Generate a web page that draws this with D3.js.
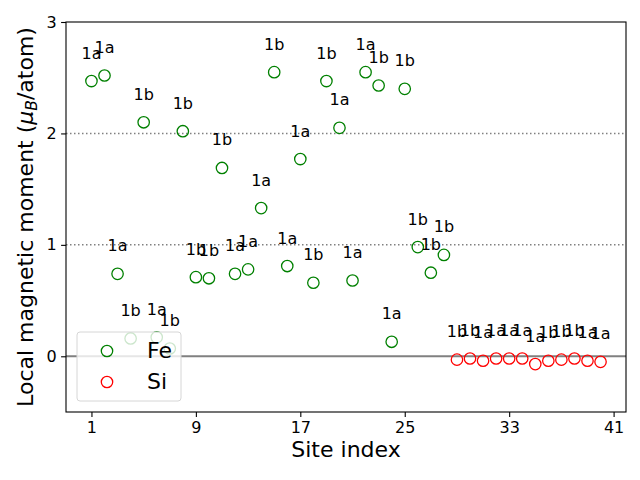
<!DOCTYPE html>
<html>
<head>
<meta charset="utf-8">
<script src="https://cdn.jsdelivr.net/npm/d3@7"></script>
<style>
  html, body { margin: 0; padding: 0; background: #fff; }
  svg { display: block; font-family: "DejaVu Sans", sans-serif; }
</style>
</head>
<body>
<svg id="chart" width="640" height="480"></svg>
<script>
// ---- Data ----
const feSites = [1,2,3,4,5,6,7,8,9,10,11,12,13,14,15,16,17,18,19,20,21,22,23,24,25,26,27,28];
const feValues = [2.47,2.52,0.74,0.16,2.10,0.17,0.07,2.02,0.71,0.70,1.69,0.74,0.78,1.33,2.55,0.81,1.77,0.66,2.47,2.05,0.68,2.55,2.43,0.13,2.40,0.98,0.75,0.91];
const feLabels = ["1a","1a","1a","1b","1b","1a","1b","1b","1b","1b","1b","1a","1a","1a","1b","1a","1a","1b","1b","1a","1a","1a","1b","1a","1b","1b","1b","1b"];
const siSites = [29,30,31,32,33,34,35,36,37,38,39,40];
const siValues = [-0.03,-0.02,-0.04,-0.02,-0.02,-0.02,-0.07,-0.04,-0.03,-0.02,-0.04,-0.05];
const siLabels = ["1b","1b","1a","1a","1a","1a","1a","1b","1b","1b","1a","1a"];
const xTicks = [1,9,17,25,33,41];
const yTicks = [0,1,2,3];
const refLines = [1,2];
const seriesNames = ["Fe","Si"];
const seriesColors = ["green","red"];

// ---- Layout ----
const svg = d3.select("#chart");
const L = 66, R = 626, T = 22, B = 412;
const x = d3.scaleLinear().domain([-0.95, 41.95]).range([L, R]);
const y = d3.scaleLinear().domain([-0.5, 3]).range([B, T]);

// reference lines
svg.append("g").selectAll("line").data(refLines).join("line")
  .attr("x1", L).attr("x2", R)
  .attr("y1", d => y(d)).attr("y2", d => y(d))
  .attr("stroke", "#808080").attr("stroke-width", 1.5)
  .attr("stroke-dasharray", "1.5,2.5");
svg.append("line")
  .attr("x1", L).attr("x2", R).attr("y1", y(0)).attr("y2", y(0))
  .attr("stroke", "#808080").attr("stroke-width", 2);

// series
const series = [
  {sites: feSites, values: feValues, labels: feLabels, color: seriesColors[0]},
  {sites: siSites, values: siValues, labels: siLabels, color: seriesColors[1]}
];
series.forEach(s => {
  const pts = s.sites.map((st, i) => ({site: st, v: s.values[i], lab: s.labels[i]}));
  const g = svg.append("g");
  g.selectAll("circle").data(pts).join("circle")
    .attr("cx", d => x(d.site)).attr("cy", d => y(d.v)).attr("r", 5.7)
    .attr("fill", "none").attr("stroke", s.color).attr("stroke-width", 1.3);
  g.selectAll("text").data(pts).join("text")
    .attr("x", d => x(d.site)).attr("y", d => y(d.v) - 22.5)
    .attr("text-anchor", "middle").attr("font-size", 16).attr("fill", "#000")
    .text(d => d.lab);
});

// axes
const xAxis = d3.axisBottom(x).tickValues(xTicks).tickSize(4.9).tickPadding(4.5).tickFormat(d3.format("d"));
const gx = svg.append("g").attr("transform", `translate(0,${B})`).call(xAxis);
const yAxis = d3.axisLeft(y).tickValues(yTicks).tickSize(4.9).tickPadding(4.5).tickFormat(d3.format("d"));
const gy = svg.append("g").attr("transform", `translate(${L},0)`).call(yAxis);
[gx, gy].forEach(g => {
  g.select(".domain").remove();
  g.selectAll(".tick line").attr("stroke", "#000").attr("stroke-width", 1.1);
  g.selectAll(".tick text").attr("font-size", 16).attr("fill", "#000")
    .attr("font-family", "DejaVu Sans, sans-serif");
});
// frame
svg.append("rect").attr("x", L).attr("y", T).attr("width", R - L).attr("height", B - T)
  .attr("fill", "none").attr("stroke", "#000").attr("stroke-width", 1.1);

// axis labels
svg.append("text").attr("x", (L + R) / 2).attr("y", 457)
  .attr("text-anchor", "middle").attr("font-size", 22).attr("fill", "#000")
  .text("Site index");
const yl = svg.append("text")
  .attr("transform", `translate(33,${(T + B) / 2}) rotate(-90)`)
  .attr("text-anchor", "middle").attr("font-size", 22).attr("fill", "#000");
yl.append("tspan").text("Local magnetic moment (");
yl.append("tspan").attr("font-style", "italic").text("μ");
yl.append("tspan").attr("font-style", "italic").attr("font-size", 15.5).attr("dy", 4).text("B");
yl.append("tspan").attr("dy", -4).text("/atom)");

// legend
const lg = svg.append("g");
lg.append("rect").attr("x", 77).attr("y", 332).attr("width", 104).attr("height", 69)
  .attr("rx", 3).attr("fill", "rgba(255,255,255,0.8)").attr("stroke", "#d6d6d6").attr("stroke-width", 1);
seriesNames.forEach((n, i) => {
  lg.append("circle").attr("cx", 107).attr("cy", 351 + i * 31).attr("r", 5.7)
    .attr("fill", "none").attr("stroke", seriesColors[i]).attr("stroke-width", 1.3);
  lg.append("text").attr("x", 147).attr("y", 358 + i * 31).attr("font-size", 22).attr("fill", "#000").text(n);
});
</script>
</body>
</html>
